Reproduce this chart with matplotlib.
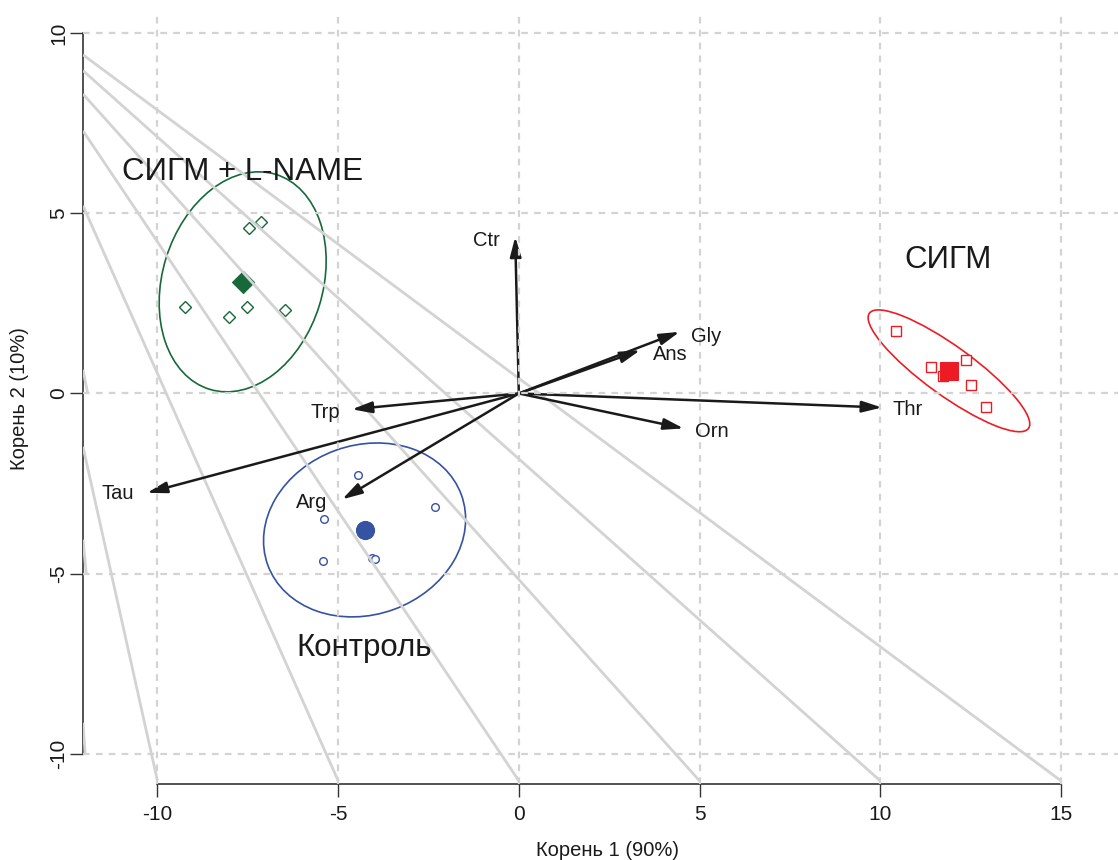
import numpy as np
import matplotlib
matplotlib.use("Agg")
import matplotlib.pyplot as plt
from matplotlib.patches import Ellipse

plt.rcParams['font.family'] = ['Liberation Sans', 'DejaVu Sans']

# ---------------- data ----------------
group_names = ['СИГМ + L-NAME', 'СИГМ', 'Контроль']
group_colors = ['#17693a', '#ed1c24', '#3552a3']
group_markers = ['D', 's', 'o']

lname_x = [-7.48, -7.14, -9.23, -8.03, -7.51, -6.46]
lname_y = [4.58, 4.77, 2.39, 2.13, 2.41, 2.31]
sigm_x = [10.45, 11.40, 12.37, 12.51, 12.93, 11.75]
sigm_y = [1.74, 0.74, 0.94, 0.23, -0.37, 0.49]
ctrl_x = [-4.45, -5.38, -2.31, -5.43, -4.06, -3.98]
ctrl_y = [-2.25, -3.49, -3.16, -4.66, -4.57, -4.60]

# confidence ellipses (semi-axes, angle in degrees)
ell_a = [3.12, 2.72, 2.85]
ell_b = [2.22, 0.68, 2.35]
ell_angle = [73, -36, 20]

# group label positions
glabel_x = [-7.66, 11.89, -4.27]
glabel_y = [5.93, 3.48, -7.30]

# variable vectors
var_names = ['Ctr', 'Gly', 'Ans', 'Orn', 'Thr', 'Trp', 'Tau', 'Arg']
var_x = [-0.10, 4.45, 3.36, 4.56, 10.05, -4.62, -10.29, -4.89]
var_y = [4.35, 1.71, 1.20, -0.97, -0.39, -0.44, -2.76, -2.94]
vlabel_x = [-0.89, 5.18, 4.19, 5.34, 10.77, -5.36, -11.11, -5.72]
vlabel_y = [4.10, 1.44, 0.93, -1.20, -0.61, -0.67, -2.93, -3.18]

# grey fan lines: start y on left edge, end points
fan_start_y = [9.40, 8.96, 8.31, 7.29, 5.21, -1.48, 0.655, -4.06, -9.14]
fan_end_x = [15, 10, 5, 0, -5, -10, -11.93, -11.97, -12.0]
fan_end_y = [-10.75, -10.75, -10.75, -10.75, -10.75, -10.75, 0, -5, -10]

xticks = [-10, -5, 0, 5, 10, 15]
yticks = [-10, -5, 0, 5, 10]
xlim = (-12.06, 16.58)
ylim = (-10.84, 10.56)

# ---------------- figure ----------------
W, H = 1118, 860
fig = plt.figure(figsize=(W / 100, H / 100), dpi=100)
ax = fig.add_axes([83 / W, 1 - 784 / H, (W - 83) / W, (784 - 13) / H])
ax.set_xlim(*xlim)
ax.set_ylim(*ylim)

# grey fan lines
for sy, ex, ey in zip(fan_start_y, fan_end_x, fan_end_y):
    ax.plot([xlim[0], ex], [sy, ey], color='#d3d3d3', lw=2.0, zorder=3,
            solid_capstyle='butt')

# groups
groups = [(lname_x, lname_y), (sigm_x, sigm_y), (ctrl_x, ctrl_y)]
hollow_ms = [6.3, 6.5, 5.5]
filled_ms = [11.5, 12.5, 13.0]
for i, (gx, gy) in enumerate(groups):
    c = group_colors[i]
    m = group_markers[i]
    cx, cy = np.mean(gx), np.mean(gy)
    ax.add_patch(Ellipse((cx, cy), 2 * ell_a[i], 2 * ell_b[i], angle=ell_angle[i],
                         fill=False, ec=c, lw=1.2, zorder=2))
    ax.plot(gx, gy, ls='none', marker=m, ms=hollow_ms[i], mfc='white', mec=c,
            mew=1.0, zorder=2)
    ax.plot([cx], [cy], ls='none', marker=m, ms=filled_ms[i], mfc=c, mec=c,
            mew=0.8, zorder=2.2)
    ax.text(glabel_x[i], glabel_y[i], group_names[i], ha='center', va='baseline',
            fontsize=22.5, color='#1a1a1a', zorder=6)

# vectors
for name, vx, vy, lx, ly in zip(var_names, var_x, var_y, vlabel_x, vlabel_y):
    ax.annotate('', xy=(vx, vy), xytext=(0, 0),
                arrowprops=dict(arrowstyle='-|>,head_length=0.6,head_width=0.17',
                                lw=1.8, color='#1a1a1a', shrinkA=0, shrinkB=0,
                                mutation_scale=20),
                zorder=4)
    ax.text(lx, ly, name, ha='center', va='baseline', fontsize=14.5,
            color='#1a1a1a', zorder=6)

# dashed grid on top
for t in xticks:
    ax.axvline(t, color='#d3d3d3', lw=1.6, ls=(0, (3, 2.8)), zorder=5)
for t in yticks:
    ax.axhline(t, color='#d3d3d3', lw=1.6, ls=(0, (3, 2.8)), zorder=5)

# axes (R style)
for s in ['top', 'right']:
    ax.spines[s].set_visible(False)
ax.spines['left'].set_bounds(-10, 10)
ax.spines['bottom'].set_bounds(-10, 15)
for s in ['left', 'bottom']:
    ax.spines[s].set_color('#333333')
    ax.spines[s].set_linewidth(1.2)
ax.set_xticks(xticks)
ax.set_yticks(yticks)
ax.set_xticklabels([str(t) for t in xticks])
ax.set_yticklabels([str(t) for t in yticks])
ax.tick_params(direction='out', length=9.4, width=1.0, color='#333333',
               labelsize=15, labelcolor='#1a1a1a')
ax.tick_params(axis='x', pad=6)
ax.tick_params(axis='y', pad=1)
for lab in ax.get_yticklabels():
    lab.set_rotation(90)
    lab.set_va('center')
    lab.set_ha('right')
ax.patch.set_visible(False)

fig.text(608 / W, 1 - 850 / H, 'Корень 1 (90%)', ha='center', va='center',
         fontsize=14.5, color='#1a1a1a')
fig.text(20 / W, 1 - 398.5 / H, 'Корень 2 (10%)', ha='center', va='center',
         rotation=90, fontsize=14.5, color='#1a1a1a')

fig.savefig('out.png', dpi=100)
